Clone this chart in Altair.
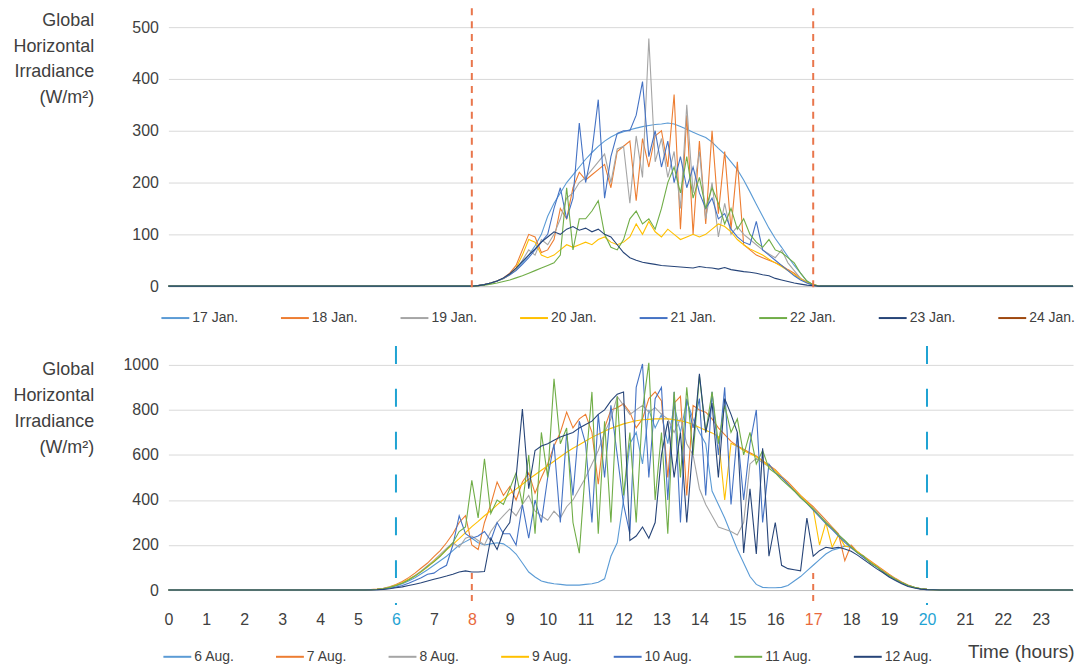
import altair as alt
import pandas as pd

FONT = "Liberation Sans"
TEXT = "#404040"
STEP = 1 / 6  # samples every 10 minutes
X_END = 23.85

# ---- January week: 10-minute samples from 08:00 (one hour per row) ----
JAN_START = 8.0
jan_days = ["17 Jan.", "18 Jan.", "19 Jan.", "20 Jan.", "21 Jan.", "22 Jan.", "23 Jan.", "24 Jan."]
jan_colors = ["#5B9BD5", "#ED7D31", "#A5A5A5", "#FFC000", "#4472C4", "#70AD47", "#264478", "#9E480E"]

jan17 = [0, 1, 3, 6, 10, 15,
         22, 32, 45, 60, 78, 100,
         135, 160, 180, 200, 215, 230,
         245, 258, 270, 280, 288, 294,
         298, 302, 305, 308, 310, 312,
         313, 315, 313, 308, 303, 297,
         292, 287, 278, 266, 255, 240,
         225, 205, 182, 158, 135, 112,
         92, 75, 57, 40, 25, 10,
         3, 0, 0]
jan18 = [0, 1, 3, 6, 10, 16,
         25, 40, 70, 100, 95, 65,
         70, 90, 150, 130, 190, 220,
         205, 215, 225, 235, 190, 260,
         270, 280, 165, 285, 230, 290,
         300, 230, 370, 110, 330, 100,
         280, 120, 300, 140, 260, 110,
         240, 80, 70, 60, 55, 50,
         45, 40, 32, 25, 15, 8,
         3, 0, 0]
jan19 = [0, 1, 3, 6, 10, 15,
         22, 32, 50, 70, 60, 90,
         80, 100, 130, 170, 180, 200,
         210, 225, 240, 255, 200, 265,
         270, 160, 290, 210, 478, 240,
         285, 210, 260, 150, 350, 180,
         260, 130, 200, 95, 160, 100,
         115, 100, 90, 80, 70, 62,
         55, 70, 45, 30, 15, 7,
         3, 0, 0]
jan20 = [0, 1, 3, 6, 10, 15,
         22, 35, 60, 90, 85, 60,
         55, 60, 70, 80, 75, 80,
         85, 80, 90, 95, 85, 80,
         85, 95, 120, 100, 125, 105,
         95, 110, 100, 90, 95, 100,
         95, 100, 110, 120, 115, 105,
         90, 80, 72, 66, 60, 52,
         45, 38, 30, 22, 14, 7,
         3, 0, 0]
jan21 = [0, 1, 3, 6, 10, 15,
         22, 30, 42, 55, 70, 85,
         100, 150, 190, 130, 170, 315,
         200, 260, 360, 170, 250, 295,
         300, 300, 330, 395, 250, 300,
         230, 280, 200, 250, 190, 230,
         180, 150, 170, 130, 140, 110,
         95, 85, 80, 125, 70, 60,
         50, 40, 30, 20, 12, 6,
         2, 0, 0]
jan22 = [0, 1, 2, 4, 6, 9,
         12, 16, 20, 25, 30, 35,
         40, 45, 60, 190, 70, 130,
         130, 145, 165, 100, 75, 70,
         90, 130, 145, 120, 130, 110,
         150, 200, 230, 180, 250, 170,
         210, 150, 190, 160, 120, 150,
         110, 130, 100, 85, 75, 90,
         70, 65, 55, 45, 25, 10,
         3, 0, 0]
jan23 = [0, 1, 3, 6, 10, 16,
         24, 35, 48, 60, 72, 85,
         95, 105, 100, 110, 115, 108,
         112, 105, 110, 100, 95, 80,
         65, 55, 50, 46, 44, 42,
         40, 39, 38, 37, 36, 35,
         38, 36, 35, 33, 36, 32,
         30, 28, 27, 25, 22, 20,
         15, 12, 9, 6, 4, 2,
         1, 0, 0]

# ---- August week: 10-minute samples from 05:00 (one hour per row) ----
AUG_START = 5.0
aug_days = ["6 Aug.", "7 Aug.", "8 Aug.", "9 Aug.", "10 Aug.", "11 Aug.", "12 Aug."]
aug_colors = ["#5B9BD5", "#ED7D31", "#A5A5A5", "#FFC000", "#4472C4", "#70AD47", "#264478"]

aug6 = [0, 0, 1, 3, 6, 11,
        18, 28, 40, 55, 72, 90,
        110, 130, 150, 175, 200, 215,
        230, 210, 200, 205, 210, 205,
        186, 160, 120, 80, 58, 40,
        33, 28, 25, 22, 22, 22,
        25, 28, 35, 50, 150, 210,
        400, 650, 700, 560, 800, 720,
        780, 650, 820, 700, 840, 760,
        700, 650, 440, 380, 320, 250,
        180, 120, 60, 25, 12, 10,
        10, 12, 20, 40, 60, 85,
        110, 135, 160, 177, 185, 195,
        190, 168, 145, 125, 105, 85,
        65, 48, 33, 20, 12, 6,
        3, 1, 0]
aug7 = [0, 0, 2, 4, 8, 15,
        25, 38, 55, 75, 98, 120,
        148, 175, 210, 250, 300, 330,
        200, 180, 300, 380, 480, 420,
        460, 400, 480, 520, 430, 500,
        560, 640, 700, 790, 720, 760,
        780, 700, 470, 720, 800, 810,
        827, 790, 720, 760, 850, 880,
        840, 500, 830, 860, 420, 820,
        800, 790, 760, 720, 690, 660,
        640, 625, 610, 595, 575, 555,
        535, 505, 480, 450, 420, 395,
        370, 340, 310, 280, 250, 130,
        200, 170, 150, 130, 110, 90,
        70, 52, 36, 22, 12, 6,
        3, 1, 0]
aug8 = [0, 0, 1, 3, 7, 13,
        22, 33, 48, 65, 85, 108,
        132, 158, 185, 210, 190, 230,
        240, 220, 200, 260, 300, 330,
        360, 330, 380, 420, 350, 330,
        310, 350, 320, 370, 400, 450,
        500, 560, 620, 700, 760, 860,
        820, 780, 800, 820, 790, 810,
        780, 760, 700, 760, 650, 600,
        450, 380, 330, 280, 270, 260,
        245, 300, 560, 585, 565, 548,
        528, 500, 470, 442, 415, 388,
        362, 332, 302, 272, 246, 218,
        192, 170, 147, 126, 106, 86,
        66, 48, 33, 20, 12, 6,
        3, 1, 0]
aug9 = [0, 0, 1, 3, 6, 12,
        22, 32, 48, 62, 82, 102,
        128, 152, 178, 203, 228, 255,
        282, 305, 330, 352, 378, 402,
        428, 448, 470, 492, 512, 532,
        552, 572, 592, 612, 630, 645,
        662, 678, 692, 705, 718, 728,
        738, 745, 752, 756, 758, 760,
        761, 760, 757, 752, 745, 735,
        722, 710, 698, 682, 400, 652,
        638, 620, 605, 592, 572, 550,
        530, 502, 472, 445, 418, 390,
        360, 200, 300, 190, 245, 195,
        192, 170, 148, 127, 107, 86,
        66, 48, 33, 20, 12, 6,
        3, 1, 0]
aug10 = [0, 0, 1, 2, 4, 8,
         13, 20, 30, 42, 55, 70,
         75, 95, 110, 200, 330, 250,
         230, 240, 260, 220, 300, 250,
         250, 200, 380, 230, 400, 300,
         500, 650, 300, 700, 420, 750,
         650, 300, 780, 500, 820, 600,
         380, 250, 900, 1004, 500, 850,
         900, 400, 880, 300, 850, 720,
         850, 420, 880, 600, 900, 380,
         700, 400, 650, 800, 300, 560,
         520, 500, 470, 440, 410, 385,
         355, 325, 295, 268, 240, 212,
         188, 165, 143, 123, 103, 83,
         63, 46, 31, 19, 11, 5,
         2, 1, 0]
aug11 = [0, 0, 1, 3, 6, 12,
         20, 30, 45, 62, 82, 105,
         125, 150, 180, 210, 260, 280,
         487, 320, 583, 340, 400, 380,
         450, 520, 380, 600, 250, 700,
         500, 938, 650, 720, 300, 164,
         550, 880, 250, 750, 300, 860,
         420, 700, 300, 800, 1009, 400,
         700, 250, 880, 500, 900, 600,
         951, 700, 880, 650, 820, 700,
         760, 600, 700, 560, 620, 540,
         520, 490, 465, 440, 410, 385,
         360, 330, 300, 275, 245, 220,
         192, 165, 150, 120, 105, 80,
         65, 48, 33, 20, 12, 6,
         3, 1, 0]
aug12 = [0, 0, 0, 1, 3, 6,
         10, 14, 20, 26, 32, 40,
         48, 55, 62, 70, 80, 85,
         80, 80, 82, 230, 180, 260,
         300, 500, 804, 450, 620, 640,
         650, 665, 680, 690, 700, 720,
         735, 750, 780, 800, 840, 870,
         880, 220, 240, 280, 230, 300,
         600, 750, 500, 700, 300, 650,
         960, 700, 830, 500, 850, 780,
         700, 165, 450, 160, 630, 150,
         300, 110, 95, 90, 85, 320,
         150, 175, 190, 185, 190, 182,
         172, 155, 135, 115, 95, 78,
         58, 42, 28, 16, 9, 4,
         2, 1, 0]

# reference hours marked with dashed lines
jan_marks = [8, 17]
aug_outer_marks = [6, 20]
aug_inner_marks = [8, 17]
hour_ticks = list(range(24))


def frame(start, series):
    rows = []
    for day, vals in series.items():
        rows.append((0.0, 0, day))
        for i, v in enumerate(vals):
            rows.append((start + i * STEP, v, day))
        rows.append((X_END, 0, day))
    return pd.DataFrame(rows, columns=["hour", "ghi", "day"])


jan_df = frame(JAN_START, dict(zip(jan_days, [jan17, jan18, jan19, jan20, jan21, jan22, jan23])))
aug_df = frame(AUG_START, dict(zip(aug_days, [aug6, aug7, aug8, aug9, aug10, aug11, aug12])))

x_scale = alt.Scale(domain=[0, X_END], nice=False, zero=False)
y_title = ["Global", "Horizontal", "Irradiance", "(W/m\u00b2)"]

label_color = ("datum.value == 6 || datum.value == 20 ? '#1FA3D3' : "
               "(datum.value == 8 || datum.value == 17 ? '#E8693C' : '#404040')")

# top panel: plain baseline only; bottom panel: hour labels and axis title
top_x_axis = alt.Axis(labels=False, ticks=False, grid=False, domainColor="#BFBFBF", title=None)
bottom_x_axis = alt.Axis(values=hour_ticks, ticks=False, grid=False, domainColor="#BFBFBF",
                         labelFontSize=16, labelFont=FONT, labelColor={"expr": label_color},
                         labelPadding=22, labelFlush=False, labelOverlap=False,
                         title="Time (hours)", titleFontSize=19, titleFont=FONT,
                         titleFontWeight="normal", titleColor=TEXT, titleAlign="right",
                         titleBaseline="middle", titleX=909, titleY=62)


def y_axis(values, title_y):
    return alt.Axis(values=values, format="d", grid=True, gridColor="#D9D9D9", gridWidth=1,
                    domain=False, ticks=False, labelFontSize=16, labelColor=TEXT,
                    labelFont=FONT, labelPadding=10,
                    title=y_title, titleAngle=0, titleAlign="right", titleBaseline="middle",
                    titleX=-75, titleY=title_y, titleFontSize=18, titleFont=FONT,
                    titleFontWeight="normal", titleColor=TEXT, titleLineHeight=26)


def legend(x, y, pad):
    return alt.Legend(orient="none", legendX=x, legendY=y, direction="horizontal",
                      columns=8, title=None, symbolType="stroke", symbolStrokeWidth=2,
                      symbolSize=784, labelFontSize=14, labelFont=FONT, labelColor=TEXT,
                      labelOffset=2, columnPadding=pad, labelLimit=200)


def marker(hours, color, dash, y_top, y_bottom, axis):
    return alt.Chart(pd.DataFrame({"hour": hours})).mark_rule(
        color=color, strokeWidth=2, strokeDash=dash
    ).encode(x=alt.X("hour:Q", scale=x_scale, axis=axis),
             y=alt.value(y_top), y2=alt.value(y_bottom))


TOP_H = 260
BOT_H = 226
W = 908

jan_lines = alt.Chart(jan_df).mark_line(strokeWidth=1.1).encode(
    x=alt.X("hour:Q", scale=x_scale, axis=top_x_axis),
    y=alt.Y("ghi:Q", scale=alt.Scale(domain=[0, 500], nice=False),
            axis=y_axis(list(range(0, 501, 100)), -7)),
    color=alt.Color("day:N", scale=alt.Scale(domain=jan_days, range=jan_colors),
                    legend=legend(-8, 277, 39)),
)
jan_panel = alt.layer(
    jan_lines,
    marker(jan_marks, "#E9764C", [7, 6], -19, TOP_H + 3, top_x_axis),
).properties(width=W, height=TOP_H)

aug_lines = alt.Chart(aug_df).mark_line(strokeWidth=1.1).encode(
    x=alt.X("hour:Q", scale=x_scale, axis=bottom_x_axis),
    y=alt.Y("ghi:Q", scale=alt.Scale(domain=[0, 1000], nice=False),
            axis=y_axis(list(range(0, 1001, 200)), 5)),
    color=alt.Color("day:N", scale=alt.Scale(domain=aug_days, range=aug_colors),
                    legend=legend(-6, 278, 37)),
)
aug_panel = alt.layer(
    aug_lines,
    marker(aug_outer_marks, "#1FA3D3", [18, 25], -19, BOT_H + 15, bottom_x_axis),
    marker(aug_inner_marks, "#E9764C", [6, 5], BOT_H - 17, BOT_H + 15, bottom_x_axis),
).properties(width=W, height=BOT_H)

chart = alt.vconcat(jan_panel, aug_panel, spacing=79, bounds="flush").resolve_scale(
    color="independent"
).properties(
    padding={"left": 12, "top": 6, "right": 5, "bottom": 0},
    background="white",
).configure_view(stroke=None)

chart.save("out.html", embed_options={"renderer": "svg", "actions": False})
